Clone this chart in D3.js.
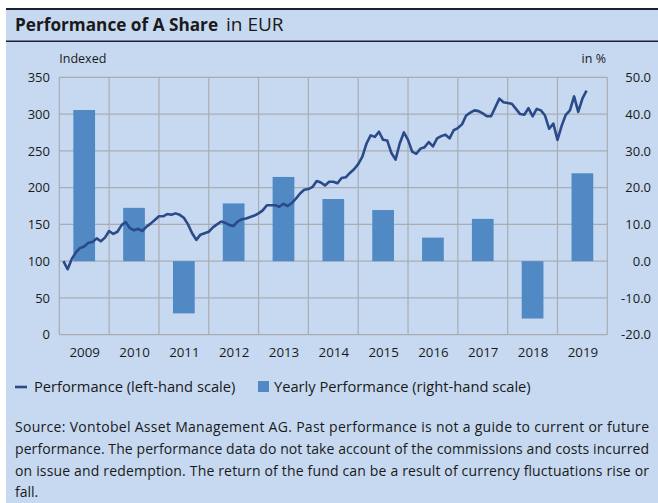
<!DOCTYPE html>
<html>
<head>
<meta charset="utf-8">
<script src="https://cdn.jsdelivr.net/npm/d3@7"></script>
<style>
  html, body { margin: 0; padding: 0; background: #ffffff; }
  svg { display: block; }
  text { font-family: "Open Sans", "Noto Sans", sans-serif; fill: #1a1a1a; }
</style>
</head>
<body>
<svg id="chart" width="658" height="503"></svg>
<script>
// ---- Data ----
const years = [2009, 2010, 2011, 2012, 2013, 2014, 2015, 2016, 2017, 2018, 2019];
const yearlyPerformance = [41.1, 14.5, -14.2, 15.7, 22.9, 16.9, 13.9, 6.4, 11.5, -15.6, 23.9];
// Monthly indexed performance (left-hand scale), starting Jan 2009
const performance = [
  100, 89, 103, 112, 118, 120, 125, 126, 131, 127, 132, 141,
  137, 140, 149, 153, 145, 142, 144, 141, 147, 151, 156, 161,
  161, 164, 163, 165, 163, 159, 150, 138, 129, 136, 138, 140,
  146, 150, 154, 152, 149, 148, 154, 157, 158, 160, 162, 165,
  169, 176, 176, 176, 174, 178, 175, 179, 185, 192, 197, 198,
  201, 209, 207, 203, 208, 208, 206, 213, 214, 220, 225, 232,
  242, 260, 271, 269, 276, 265, 264, 247, 238, 260, 275, 265,
  249, 246, 253, 255, 262, 256, 267, 270, 272, 267, 278, 281,
  286, 298, 302, 305, 304, 301, 297, 297, 309, 321, 316, 315,
  314, 307, 300, 299, 308, 297, 307, 305, 298, 280, 287, 265,
  284, 299, 305, 324, 303, 321, 332
];
const leftTicks = [0, 50, 100, 150, 200, 250, 300, 350];
const rightTicks = [-20, -10, 0, 10, 20, 30, 40, 50];
const titleBold = "Performance of A Share";
const titleRegular = "in EUR";
const leftAxisTitle = "Indexed";
const rightAxisTitle = "in %";
const legendLabels = ["Performance (left-hand scale)", "Yearly Performance (right-hand scale)"];
const sourceLines = [
  "Source: Vontobel Asset Management AG. Past performance is not a guide to current or future",
  "performance. The performance data do not take account of the commissions and costs incurred",
  "on issue and redemption. The return of the fund can be a result of currency fluctuations rise or",
  "fall."
];

// ---- Layout ----
const W = 658, H = 503;
const plot = { left: 59.3, right: 607.3, top: 77.3, bottom: 334.7 };
const bg = "#C6D9F1";
const gridColor = "#A9ADB3";
const barColor = "#5089C4";
const lineColor = "#2A4A8A";

const svg = d3.select("#chart");

// background
svg.append("rect").attr("x", 0).attr("y", 0).attr("width", W).attr("height", H).attr("fill", "#ffffff");
svg.append("rect").attr("x", 6).attr("y", 8).attr("width", W - 6).attr("height", H - 8).attr("fill", bg);
// title band lines
svg.append("line").attr("x1", 6).attr("x2", W).attr("y1", 9).attr("y2", 9)
  .attr("stroke", "#1c2233").attr("stroke-width", 1.8);
svg.append("line").attr("x1", 6).attr("x2", W).attr("y1", 41.3).attr("y2", 41.3)
  .attr("stroke", "#1c2233").attr("stroke-width", 1.5);

// title
const title = svg.append("text").attr("x", 15).attr("y", 31);
title.append("tspan").attr("font-weight", "bold").style("font-size", "17.2px").text(titleBold);
title.append("tspan").attr("dx", 8).style("font-size", "19px").text(titleRegular);

// ---- Scales ----
const xTime = d3.scaleLinear().domain([years[0], years[years.length - 1] + 1]).range([plot.left, plot.right]);
const xBar = d3.scaleBand().domain(years).range([plot.left, plot.right]).paddingInner(0.564).paddingOuter(0.282);
const yLeft = d3.scaleLinear().domain([0, 350]).range([plot.bottom, plot.top]);
const yRight = d3.scaleLinear().domain([-20, 50]).range([plot.bottom, plot.top]);

// ---- Grid ----
const grid = svg.append("g");
grid.selectAll("line.h").data(leftTicks).join("line")
  .attr("x1", plot.left).attr("x2", plot.right)
  .attr("y1", d => yLeft(d)).attr("y2", d => yLeft(d))
  .attr("stroke", gridColor).attr("stroke-width", 1.2);
const boundaries = years.concat([years[years.length - 1] + 1]);
grid.selectAll("line.v").data(boundaries).join("line")
  .attr("x1", d => xTime(d)).attr("x2", d => xTime(d))
  .attr("y1", plot.top).attr("y2", plot.bottom)
  .attr("stroke", gridColor).attr("stroke-width", 1.2);

// ---- Bars ----
svg.append("g").selectAll("rect").data(years).join("rect")
  .attr("x", d => xBar(d))
  .attr("width", xBar.bandwidth())
  .attr("y", (d, i) => Math.min(yRight(yearlyPerformance[i]), yRight(0)))
  .attr("height", (d, i) => Math.abs(yRight(yearlyPerformance[i]) - yRight(0)))
  .attr("fill", barColor);

// ---- Line ----
const line = d3.line()
  .x((d, i) => xTime(years[0] + (i + 1) / 12))
  .y(d => yLeft(d));
svg.append("path").datum(performance)
  .attr("d", line)
  .attr("fill", "none")
  .attr("stroke", lineColor)
  .attr("stroke-width", 2.6)
  .attr("stroke-linejoin", "round");

// ---- Axes ----
const leftAxis = d3.axisLeft(yLeft).tickValues(leftTicks).tickSize(0).tickPadding(0);
const gL = svg.append("g").attr("transform", `translate(50,0)`).call(leftAxis);
gL.select(".domain").remove();
gL.selectAll("text").style("font-size", "13px").attr("fill", "#1a1a1a").attr("font-family", null);

const rightAxis = d3.axisRight(yRight).tickValues(rightTicks).tickSize(0).tickPadding(0)
  .tickFormat(d => d.toFixed(1));
const gR = svg.append("g").attr("transform", `translate(651,0)`).call(rightAxis);
gR.select(".domain").remove();
gR.selectAll("text").style("font-size", "13px").attr("text-anchor", "end").attr("fill", "#1a1a1a").attr("font-family", null);

const xAxis = d3.axisBottom(xTime).tickValues(years.map(y => y + 0.5)).tickSize(0).tickPadding(0)
  .tickFormat(d => String(Math.floor(d)));
const gX = svg.append("g").attr("transform", `translate(0,348)`).call(xAxis);
gX.select(".domain").remove();
gX.selectAll("text").style("font-size", "13.3px").attr("fill", "#1a1a1a").attr("font-family", null);

// axis titles
svg.append("text").attr("x", plot.left).attr("y", 63).style("font-size", "12.5px").text(leftAxisTitle);
svg.append("text").attr("x", 606).attr("y", 63).attr("text-anchor", "end").style("font-size", "12.5px").text(rightAxisTitle);

// ---- Legend ----
const lg = svg.append("g");
lg.append("line").attr("x1", 15).attr("x2", 27).attr("y1", 387).attr("y2", 387)
  .attr("stroke", lineColor).attr("stroke-width", 2.6);
lg.append("text").attr("x", 34).attr("y", 392).style("font-size", "14.7px").text(legendLabels[0]);
lg.append("rect").attr("x", 258).attr("y", 381).attr("width", 11).attr("height", 11).attr("fill", barColor);
lg.append("text").attr("x", 274).attr("y", 392).style("font-size", "14.7px").text(legendLabels[1]);

// ---- Source ----
svg.append("g").selectAll("text").data(sourceLines).join("text")
  .attr("x", 15).attr("y", (d, i) => 432 + i * 21.8)
  .style("font-size", "14px")
  .attr("textLength", (d, i) => i < sourceLines.length - 1 ? 634 : null)
  .attr("lengthAdjust", "spacing")
  .text(d => d);
</script>
</body>
</html>
